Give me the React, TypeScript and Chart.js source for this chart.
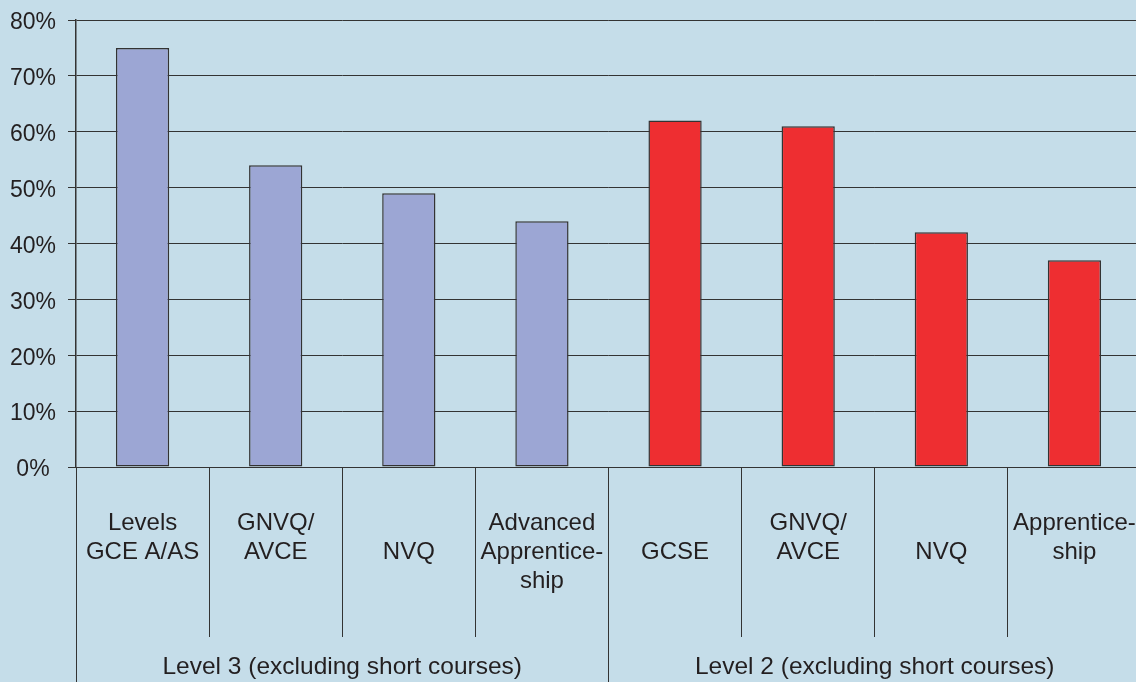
import React, { useEffect, useRef } from 'react';
import { Chart, registerables } from 'chart.js';

Chart.register(...registerables);

const categories: string[][] = [
  ['Levels', 'GCE A/AS'],
  ['GNVQ/', 'AVCE'],
  ['', 'NVQ'],
  ['Advanced', 'Apprentice-', 'ship'],
  ['', 'GCSE'],
  ['GNVQ/', 'AVCE'],
  ['', 'NVQ'],
  ['Apprentice-', 'ship'],
];
const groupOf = [0, 0, 0, 0, 1, 1, 1, 1];
const groupLabels = ['Level 3 (excluding short courses)', 'Level 2 (excluding short courses)'];
const values = [75, 54, 49, 44, 62, 61, 42, 37];
const groupColors = ['#9ca6d4', '#ee2e31'];

const BG = '#c5dde9';
const TEXT = '#231f20';
const LINE = '#333333';
const FAMILY = "'Liberation Sans', Arial, sans-serif";
const Y_FONT = { family: FAMILY, size: 23, lineHeight: 1.2 };
const X_FONT = { family: FAMILY, size: 24, lineHeight: 1.2 };
const G_FONT = { family: FAMILY, size: 24.5, lineHeight: 1.2 };

const CANVAS_W = 1141;
const CANVAS_H = 682;

const bgPlugin = {
  id: 'bgFill',
  beforeDraw(chart: any) {
    const ctx = chart.ctx;
    ctx.save();
    ctx.fillStyle = BG;
    ctx.fillRect(0, 0, chart.width, chart.height);
    ctx.restore();
  },
};

export default function App() {
  const ref = useRef<HTMLCanvasElement | null>(null);

  useEffect(() => {
    document.body.style.margin = '0';
    document.body.style.background = BG;
    const canvas = ref.current;
    if (!canvas) return;
    const chart = new Chart(canvas, {
      type: 'bar',
      data: {
        labels: categories,
        datasets: [
          {
            data: values,
            backgroundColor: groupOf.map((g) => groupColors[g]),
            borderColor: '#333333',
            borderWidth: 1.5,
            borderSkipped: false,
            barPercentage: 0.4,
            categoryPercentage: 1,
            xAxisID: 'x',
          },
        ],
      },
      options: {
        animation: false,
        responsive: false,
        layout: { padding: { top: 20, right: 0, left: 0, bottom: 0 } },
        plugins: {
          legend: { display: false },
          tooltip: { enabled: false },
          title: { display: false },
        },
        scales: {
          y: {
            min: 0,
            max: 80,
            ticks: {
              stepSize: 10,
              padding: 12,
              labelOffset: 3,
              color: TEXT,
              font: Y_FONT,
              callback: (v: any) => (v === 0 ? '0% ' : v + '%'),
            },
            grid: { color: LINE, lineWidth: 1, tickLength: 8, drawTicks: true },
            border: { display: true, color: LINE, width: 1.5 },
            afterFit: (s: any) => {
              s.width = 76;
              s.paddingTop = 0;
              s.paddingBottom = 0;
            },
          },
          x: {
            type: 'category',
            position: 'bottom',
            weight: 0,
            offset: true,
            ticks: {
              autoSkip: false,
              maxRotation: 0,
              minRotation: 0,
              crossAlign: 'near',
              padding: -128,
              color: TEXT,
              font: X_FONT,
            },
            grid: {
              offset: true,
              drawOnChartArea: false,
              drawTicks: true,
              tickLength: 170,
              color: LINE,
              lineWidth: 1,
            },
            border: { display: false },
            afterFit: (s: any) => {
              s.height = 170;
              s.paddingLeft = 0;
              s.paddingRight = 0;
            },
          },
          x2: {
            type: 'category',
            position: 'bottom',
            weight: 1,
            labels: groupLabels,
            offset: true,
            ticks: {
              autoSkip: false,
              maxRotation: 0,
              minRotation: 0,
              crossAlign: 'near',
              padding: -29,
              color: TEXT,
              font: G_FONT,
            },
            grid: {
              offset: true,
              drawOnChartArea: false,
              drawTicks: true,
              tickLength: 45,
              color: LINE,
              lineWidth: 1,
            },
            border: { display: false },
            afterFit: (s: any) => {
              s.height = 45;
              s.paddingLeft = 0;
              s.paddingRight = 0;
            },
          },
        },
      } as any,
      plugins: [bgPlugin],
    });
    return () => chart.destroy();
  }, []);

  return (
    <div
      style={{
        position: 'fixed',
        left: 0,
        top: 0,
        width: 1136,
        height: 682,
        overflow: 'hidden',
        background: BG,
      }}
    >
      <canvas
        ref={ref}
        width={CANVAS_W}
        height={CANVAS_H}
        style={{ display: 'block', width: CANVAS_W, height: CANVAS_H }}
      />
    </div>
  );
}
